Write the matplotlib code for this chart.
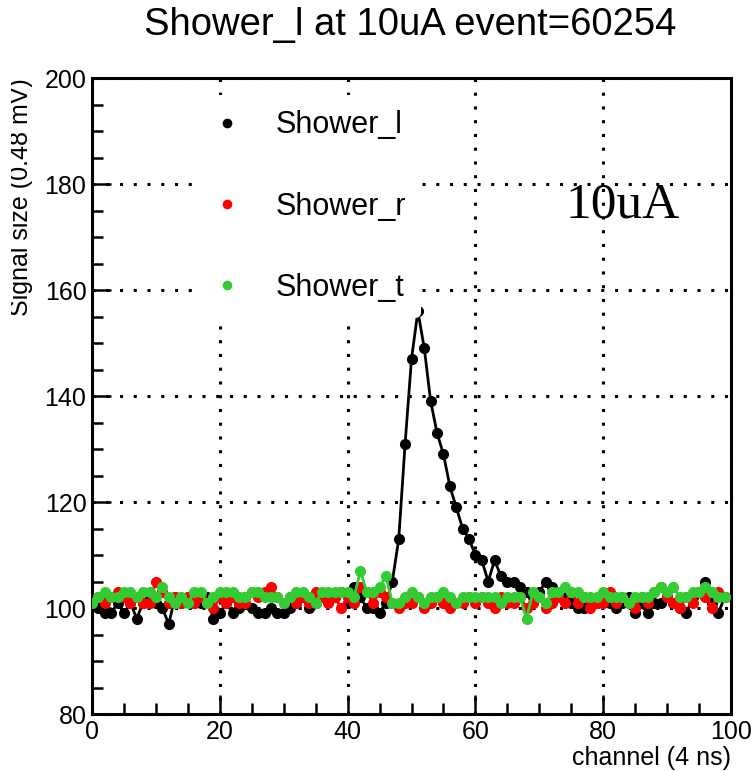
import matplotlib
matplotlib.use("Agg")
import matplotlib.pyplot as plt
import numpy as np
from matplotlib.ticker import MultipleLocator
from matplotlib.transforms import Bbox

# channel index 0..99
channels = np.arange(100)

shower_l = [101, 100, 99, 99, 101, 99, 101, 98, 101, 102,
            101, 100, 97, 102, 101, 102, 101, 101, 102, 98,
            99, 101, 99, 100, 102, 100, 99, 99, 100, 99,
            99, 100, 101, 102, 100, 101, 102, 102, 102, 103,
            101, 104, 102, 100, 100, 99, 101, 105, 113, 131,
            147, 156, 149, 139, 133, 129, 123, 119, 115, 113,
            110, 109, 105, 109, 106, 105, 105, 104, 103, 102,
            103, 105, 104, 103, 102, 101, 100, 100, 101, 101,
            102, 101, 100, 101, 102, 99, 101, 99, 101, 101,
            102, 101, 100, 99, 102, 103, 105, 101, 99, 102]

shower_r = [101, 102, 101, 102, 103, 102, 101, 102, 101, 101,
            105, 103, 101, 102, 101, 102, 101, 102, 101, 100,
            102, 101, 102, 101, 101, 103, 102, 103, 104, 102,
            101, 102, 101, 102, 101, 103, 102, 101, 102, 100,
            102, 101, 104, 103, 101, 103, 102, 101, 100, 101,
            101, 102, 100, 101, 102, 101, 100, 101, 101, 102,
            101, 102, 101, 100, 102, 101, 101, 102, 100, 101,
            102, 100, 101, 102, 101, 103, 101, 102, 100, 101,
            101, 103, 101, 102, 101, 100, 102, 101, 103, 104,
            102, 101, 100, 102, 101, 103, 102, 100, 103, 102]

shower_t = [101, 102, 103, 102, 102, 103, 103, 102, 103, 103,
            102, 104, 102, 101, 102, 101, 103, 103, 101, 102,
            103, 103, 103, 102, 102, 103, 103, 102, 102, 102,
            101, 102, 103, 103, 102, 101, 103, 103, 103, 103,
            103, 102, 107, 103, 103, 104, 106, 101, 101, 102,
            103, 102, 101, 102, 102, 103, 102, 101, 102, 102,
            102, 102, 102, 102, 101, 102, 102, 102, 98, 103,
            102, 101, 103, 103, 104, 103, 103, 102, 102, 102,
            103, 102, 102, 102, 101, 102, 102, 102, 103, 104,
            103, 104, 102, 102, 103, 103, 104, 103, 102, 102]

series_names = ["Shower_l", "Shower_r", "Shower_t"]
series_colors = ["#000000", "#ff0000", "#33cc33"]

plt.rcParams["font.family"] = ["Liberation Sans", "DejaVu Sans"]

fig = plt.figure(figsize=(7.51, 7.71), dpi=100)
ax = fig.add_axes([92 / 751, 1 - 714 / 771, (731 - 92) / 751, (714 - 78) / 771])

handles = []
for data, name, col in zip([shower_l, shower_r, shower_t], series_names, series_colors):
    ax.plot(channels, data, "-", color=col, linewidth=2.0, zorder=3)
    ax.plot(channels, data, "o", color=col, markersize=7, zorder=3)
    h, = ax.plot([], [], "o", color=col, markersize=7, linestyle="none", label=name)
    handles.append(h)

ax.set_xlim(0, 100)
ax.set_ylim(80, 200)
ax.xaxis.set_major_locator(MultipleLocator(20))
ax.xaxis.set_minor_locator(MultipleLocator(5))
ax.yaxis.set_major_locator(MultipleLocator(20))
ax.yaxis.set_minor_locator(MultipleLocator(5))
ax.tick_params(which="both", direction="in", width=1.8, labelsize=18, pad=4)
ax.tick_params(which="major", length=14)
ax.tick_params(which="minor", length=8)
for s in ax.spines.values():
    s.set_linewidth(2.2)

ax.grid(True, which="major", color="black", linestyle=(0, (1, 3.5)), linewidth=2.2, zorder=1)
ax.set_axisbelow(True)

leg = ax.legend(handles=handles, loc="upper left", bbox_to_anchor=(0.139, 0.997),
                frameon=True, fontsize=22, labelspacing=1.68, handletextpad=1.1,
                borderpad=0.5, handlelength=1.0, markerscale=0.85)
leg.get_frame().set_edgecolor("none")
leg.get_frame().set_facecolor("white")
leg.get_frame().set_alpha(1)
leg.set_zorder(5)

ax.text(0.92, 0.80, "10uA", transform=ax.transAxes, fontsize=37,
        family="Liberation Serif", ha="right", va="center")

fig.text(410 / 751, 1 - 25 / 771, "Shower_l at 10uA event=60254", fontsize=27.5,
         ha="center", va="center")
fig.text(731 / 751, 1 - 758 / 771, "channel (4 ns)", fontsize=18, ha="right", va="center")
ylab = fig.text(21 / 751, 1 - 78 / 771, "Signal size (0.48 mV)", fontsize=18, rotation=90,
                ha="center", va="top")
ylab.set_clip_box(Bbox.from_extents(11, 0, 751, 771))
ylab.set_clip_on(True)

fig.savefig("out.png", dpi=100)
